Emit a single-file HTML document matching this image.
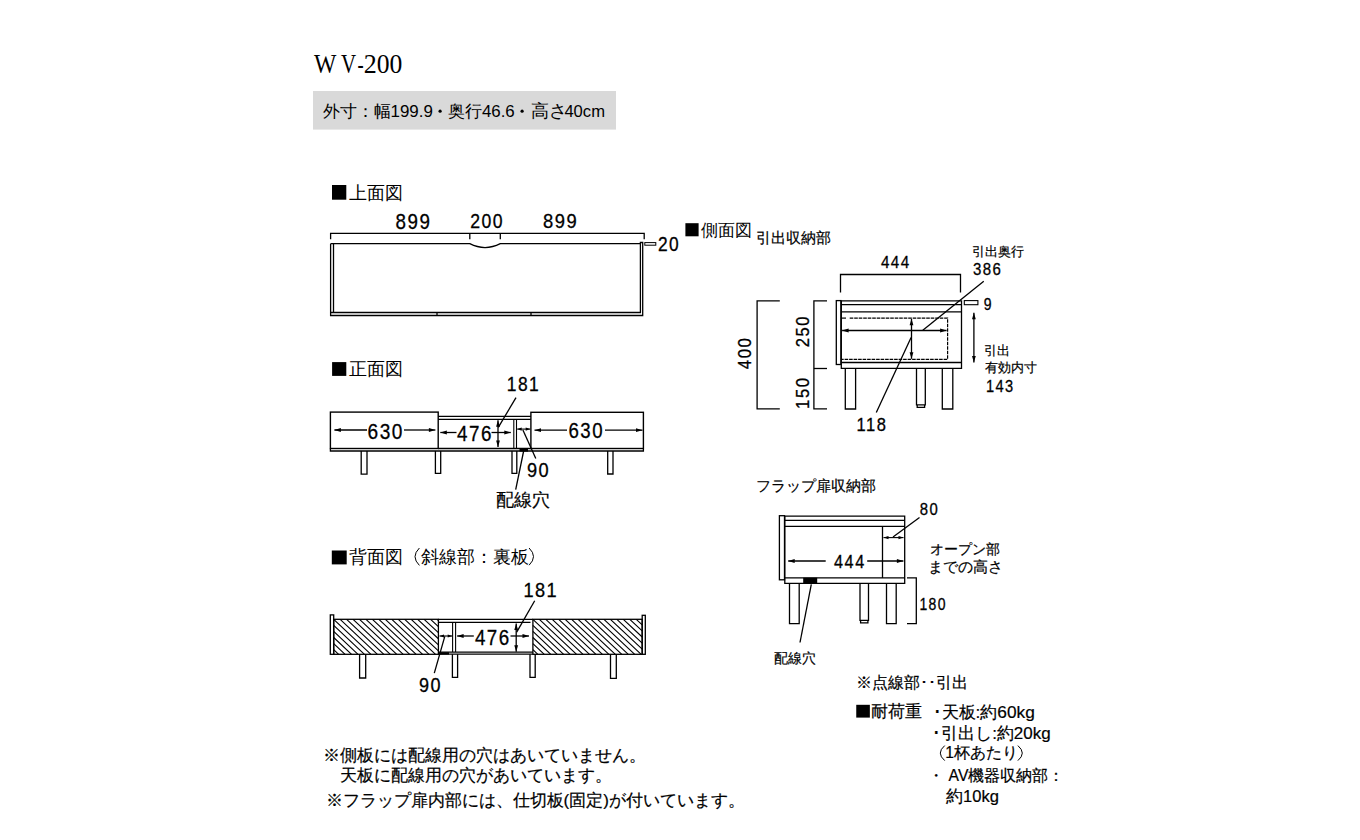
<!DOCTYPE html>
<html lang="ja"><head><meta charset="utf-8"><style>
html,body{margin:0;padding:0;background:#fff;width:1360px;height:840px;overflow:hidden}
svg{position:absolute;left:0;top:0}
</style></head><body>
<svg width="1360" height="840" viewBox="0 0 1360 840">
<rect x="313" y="91" width="303" height="38.6" fill="#d9d9d9"/>
<g stroke="#000" fill="none" stroke-linecap="butt">
<path d="M330.6,239.3 V233.3 H644.2 V239.3" stroke-width="1.3" fill="none"/>
<line x1="469.8" y1="233.3" x2="469.8" y2="239.3" stroke-width="1.3"/>
<line x1="500.3" y1="233.3" x2="500.3" y2="239.3" stroke-width="1.3"/>
<path d="M330.6,243.7 H469.8 Q485,251.5 500.3,243.7 H640.4" stroke-width="1.3" fill="none"/>
<path d="M333.5,243.7 V312.5" stroke-width="1.3" fill="none"/>
<path d="M330.6,243.7 V315.5 H642.7 V242.5 H640.4 V312.5 H330.6" stroke-width="1.3" fill="none"/>
<line x1="437" y1="312.5" x2="437" y2="315.5" stroke-width="1.3"/>
<line x1="531" y1="312.5" x2="531" y2="315.5" stroke-width="1.3"/>
<rect x="644.8" y="242.6" width="11.0" height="2.6" stroke-width="1.0" fill="none"/>
<rect x="330.4" y="412.1" width="107.8" height="36.4" stroke-width="1.4" fill="none"/>
<rect x="530.9" y="412.3" width="112.5" height="36.2" stroke-width="1.4" fill="none"/>
<line x1="438.2" y1="416.3" x2="530.9" y2="416.3" stroke-width="1.3"/>
<line x1="438.2" y1="419.3" x2="530.9" y2="419.3" stroke-width="1.3"/>
<line x1="513.8" y1="419.3" x2="513.8" y2="448.5" stroke-width="1.1"/>
<line x1="516.5" y1="419.3" x2="516.5" y2="448.5" stroke-width="1.1"/>
<path d="M330.4,448.5 V451 H643.4 V448.5" stroke-width="1.3" fill="none"/>
<line x1="438.2" y1="448.5" x2="530.9" y2="448.5" stroke-width="1.3"/>
<rect x="519.5" y="448" width="8.5" height="3.6" fill="#000" stroke="none"/>
<path d="M361.2,451 V474.2 H367 V451" stroke-width="1.3" fill="none"/>
<path d="M435.4,451 V473.3 H440.7 V451" stroke-width="1.3" fill="none"/>
<path d="M512,451 V473.3 H516.8 V451" stroke-width="1.3" fill="none"/>
<path d="M607.7,451 V474 H613 V451" stroke-width="1.3" fill="none"/>
<line x1="367" y1="430" x2="334.4" y2="430" stroke-width="1.3"/>
<path d="M334.40,430.00 L340.90,428.10 L340.90,431.90Z" fill="#000" stroke="none"/>
<line x1="404" y1="430" x2="435.4" y2="430" stroke-width="1.3"/>
<path d="M435.40,430.00 L428.90,431.90 L428.90,428.10Z" fill="#000" stroke="none"/>
<line x1="456.5" y1="432.5" x2="440.3" y2="432.5" stroke-width="1.3"/>
<path d="M440.30,432.50 L446.80,430.60 L446.80,434.40Z" fill="#000" stroke="none"/>
<line x1="491.5" y1="432.5" x2="510.8" y2="432.5" stroke-width="1.3"/>
<path d="M510.80,432.50 L504.30,434.40 L504.30,430.60Z" fill="#000" stroke="none"/>
<line x1="498" y1="420.2" x2="498" y2="447" stroke-width="1.3"/>
<path d="M498.00,447.00 L496.10,440.50 L499.90,440.50Z" fill="#000" stroke="none"/>
<path d="M498.00,420.20 L499.90,426.70 L496.10,426.70Z" fill="#000" stroke="none"/>
<line x1="517.2" y1="429.1" x2="530.2" y2="429.1" stroke-width="1.1"/>
<path d="M530.20,429.10 L525.70,430.70 L525.70,427.50Z" fill="#000" stroke="none"/>
<path d="M517.20,429.10 L521.70,427.50 L521.70,430.70Z" fill="#000" stroke="none"/>
<line x1="567" y1="430.2" x2="534.5" y2="430.2" stroke-width="1.3"/>
<path d="M534.50,430.20 L541.00,428.30 L541.00,432.10Z" fill="#000" stroke="none"/>
<line x1="605" y1="430.2" x2="642.5" y2="430.2" stroke-width="1.3"/>
<path d="M642.50,430.20 L636.00,432.10 L636.00,428.30Z" fill="#000" stroke="none"/>
<line x1="516" y1="397.6" x2="498.3" y2="427.3" stroke-width="1.3"/>
<line x1="522.9" y1="430" x2="535.8" y2="458.6" stroke-width="1.3"/>
<line x1="523.75" y1="450.5" x2="515.7" y2="489.6" stroke-width="1.3"/>
<path d="M779.8,300.8 H757.1 V408.9 H779.8" stroke-width="1.3" fill="none"/>
<path d="M827,300.8 H813.9 V408.9 H827" stroke-width="1.3" fill="none"/>
<line x1="813.9" y1="368.5" x2="827" y2="368.5" stroke-width="1.3"/>
<path d="M840.5,292.5 V274.5 H960.5 V292.5" stroke-width="1.3" fill="none"/>
<rect x="836.3" y="300.6" width="4.6" height="63.9" stroke-width="1.3" fill="none"/>
<path d="M841.3,368.3 V300.9 H961.5 V368.3 Z" stroke-width="1.3" fill="none"/>
<line x1="841.3" y1="304.7" x2="961.5" y2="304.7" stroke-width="1.3"/>
<line x1="841.3" y1="311.8" x2="961.5" y2="311.8" stroke-width="1.3"/>
<line x1="841.3" y1="362.5" x2="961.5" y2="362.5" stroke-width="1.3"/>
<line x1="842" y1="318.1" x2="846" y2="318.1" stroke-width="1.2"/>
<path d="M849.7,318.1 H947.6 V359.3 H842" fill="none" stroke-width="1.2" stroke-dasharray="3.6,0.9"/>
<line x1="842.1" y1="330.5" x2="946.6" y2="330.5" stroke-width="1.3"/>
<path d="M946.60,330.50 L940.10,332.40 L940.10,328.60Z" fill="#000" stroke="none"/>
<path d="M842.10,330.50 L848.60,328.60 L848.60,332.40Z" fill="#000" stroke="none"/>
<line x1="911.5" y1="318.8" x2="911.5" y2="358.8" stroke-width="1.3"/>
<path d="M911.50,358.80 L909.60,352.30 L913.40,352.30Z" fill="#000" stroke="none"/>
<path d="M911.50,318.80 L913.40,325.30 L909.60,325.30Z" fill="#000" stroke="none"/>
<line x1="983.75" y1="281.25" x2="922.8" y2="330.3" stroke-width="1.3"/>
<line x1="911.1" y1="337.6" x2="876.3" y2="412.6" stroke-width="1.3"/>
<rect x="964.3" y="300.6" width="13.6" height="4.1" stroke-width="1.1" fill="none"/>
<line x1="973.9" y1="312.8" x2="973.9" y2="362.4" stroke-width="1.3"/>
<path d="M973.90,362.40 L972.00,355.90 L975.80,355.90Z" fill="#000" stroke="none"/>
<path d="M973.90,312.80 L975.80,319.30 L972.00,319.30Z" fill="#000" stroke="none"/>
<path d="M845.3,368.3 V409 H855.6 V368.3" stroke-width="1.3" fill="none"/>
<path d="M916.5,368.3 V404.9 H925.3 V368.3" stroke-width="1.3" fill="none"/>
<path d="M917.2,404.9 V407.3 H924.6 V404.9" stroke-width="1.3" fill="none"/>
<path d="M942.3,368.3 V409 H952.8 V368.3" stroke-width="1.3" fill="none"/>
<rect x="779.4" y="515.7" width="5.1" height="64.1" stroke-width="1.3" fill="none"/>
<path d="M784.8,583.3 V516.1 H904.7 V583.3 Z" stroke-width="1.3" fill="none"/>
<line x1="784.8" y1="520.3" x2="904.7" y2="520.3" stroke-width="1.3"/>
<line x1="784.8" y1="526.4" x2="904.7" y2="526.4" stroke-width="1.3"/>
<line x1="784.8" y1="577.9" x2="904.7" y2="577.9" stroke-width="1.3"/>
<line x1="882.5" y1="526.4" x2="882.5" y2="577.9" stroke-width="1.3"/>
<rect x="803.2" y="577.7" width="14.0" height="5.8" fill="#000" stroke="none"/>
<line x1="825.7" y1="561" x2="788.2" y2="561" stroke-width="1.3"/>
<path d="M788.20,561.00 L794.70,559.10 L794.70,562.90Z" fill="#000" stroke="none"/>
<line x1="867.2" y1="561" x2="903.4" y2="561" stroke-width="1.3"/>
<path d="M903.40,561.00 L896.90,562.90 L896.90,559.10Z" fill="#000" stroke="none"/>
<line x1="883.5" y1="537.6" x2="903.5" y2="537.6" stroke-width="1.1"/>
<path d="M903.50,537.60 L898.50,539.20 L898.50,536.00Z" fill="#000" stroke="none"/>
<path d="M883.50,537.60 L888.50,536.00 L888.50,539.20Z" fill="#000" stroke="none"/>
<line x1="893" y1="537.1" x2="919.5" y2="517.5" stroke-width="1.3"/>
<line x1="811.3" y1="584.3" x2="800" y2="642.5" stroke-width="1.3"/>
<path d="M789.5,583.3 V623.7 H799.2 V583.3" stroke-width="1.3" fill="none"/>
<path d="M860,583.3 V620.4 H868.5 V583.3" stroke-width="1.3" fill="none"/>
<path d="M860.6,620.4 V622.8 H867.9 V620.4" stroke-width="1.3" fill="none"/>
<path d="M886.5,583.3 V623.6 H896.2 V583.3" stroke-width="1.3" fill="none"/>
<path d="M907,577.8 H916.3 V623.6 H907" stroke-width="1.3" fill="none"/>
<rect x="330.3" y="614.9" width="3.4" height="39.4" stroke-width="1.3" fill="none"/>
<path d="M333.70,649.66L338.64,654.30M333.70,643.59L345.10,654.30M333.70,637.51L351.56,654.30M333.70,631.44L358.02,654.30M333.70,625.37L364.48,654.30M333.70,619.30L370.94,654.30M340.16,619.30L377.40,654.30M346.62,619.30L383.86,654.30M353.08,619.30L390.32,654.30M359.54,619.30L396.78,654.30M366.00,619.30L403.24,654.30M372.46,619.30L409.70,654.30M378.92,619.30L416.16,654.30M385.38,619.30L422.62,654.30M391.84,619.30L429.08,654.30M398.30,619.30L435.54,654.30M404.76,619.30L438.40,650.92M411.22,619.30L438.40,644.85M417.68,619.30L438.40,638.77M424.14,619.30L438.40,632.70M430.60,619.30L438.40,626.63M437.06,619.30L438.40,620.56" stroke-width="1.15" fill="none"/>
<rect x="333.7" y="619.3" width="104.7" height="35.0" stroke-width="1.3" fill="none"/>
<path d="M532.90,649.66L537.84,654.30M532.90,643.59L544.30,654.30M532.90,637.51L550.76,654.30M532.90,631.44L557.22,654.30M532.90,625.37L563.68,654.30M532.90,619.30L570.14,654.30M539.36,619.30L576.60,654.30M545.82,619.30L583.06,654.30M552.28,619.30L589.52,654.30M558.74,619.30L595.98,654.30M565.20,619.30L602.44,654.30M571.66,619.30L608.90,654.30M578.12,619.30L615.36,654.30M584.58,619.30L621.82,654.30M591.04,619.30L628.28,654.30M597.50,619.30L634.74,654.30M603.96,619.30L641.20,654.30M610.42,619.30L642.20,649.17M616.88,619.30L642.20,643.10M623.34,619.30L642.20,637.03M629.80,619.30L642.20,630.95M636.26,619.30L642.20,624.88" stroke-width="1.15" fill="none"/>
<rect x="532.9" y="619.3" width="109.3" height="35.0" stroke-width="1.3" fill="none"/>
<rect x="642.2" y="615.3" width="3.1" height="39.0" stroke-width="1.3" fill="none"/>
<line x1="438.4" y1="619.3" x2="532.9" y2="619.3" stroke-width="1.3"/>
<line x1="438.4" y1="654.1" x2="532.9" y2="654.1" stroke-width="1.3"/>
<line x1="438.4" y1="622.3" x2="530.5" y2="622.3" stroke-width="1.3"/>
<line x1="438.4" y1="652.1" x2="532.9" y2="652.1" stroke-width="1.1"/>
<line x1="452.6" y1="622.3" x2="452.6" y2="652.1" stroke-width="1.1"/>
<line x1="455.6" y1="622.3" x2="455.6" y2="652.1" stroke-width="1.1"/>
<rect x="439" y="652.2" width="10" height="2.4" fill="#000" stroke="none"/>
<line x1="439.5" y1="636" x2="452.2" y2="636" stroke-width="1.1"/>
<path d="M452.20,636.00 L447.70,637.60 L447.70,634.40Z" fill="#000" stroke="none"/>
<path d="M439.50,636.00 L444.00,634.40 L444.00,637.60Z" fill="#000" stroke="none"/>
<line x1="473.8" y1="636" x2="457.1" y2="636" stroke-width="1.3"/>
<path d="M457.10,636.00 L463.60,634.10 L463.60,637.90Z" fill="#000" stroke="none"/>
<line x1="510.5" y1="636" x2="529" y2="636" stroke-width="1.3"/>
<path d="M529.00,636.00 L522.50,637.90 L522.50,634.10Z" fill="#000" stroke="none"/>
<line x1="516.2" y1="623.6" x2="516.2" y2="651.7" stroke-width="1.3"/>
<path d="M516.20,651.70 L514.30,645.20 L518.10,645.20Z" fill="#000" stroke="none"/>
<path d="M516.20,623.60 L518.10,630.10 L514.30,630.10Z" fill="#000" stroke="none"/>
<line x1="534.7" y1="600.8" x2="516.7" y2="632.1" stroke-width="1.3"/>
<line x1="444.8" y1="636.4" x2="434.3" y2="673.1" stroke-width="1.3"/>
<path d="M359.6,654.3 V678 H365.7 V654.3" stroke-width="1.3" fill="none"/>
<path d="M452.4,654.3 V677.4 H457.6 V654.3" stroke-width="1.3" fill="none"/>
<path d="M530,654.3 V677.4 H535.2 V654.3" stroke-width="1.3" fill="none"/>
<path d="M610.5,654.3 V678.3 H616.3 V654.3" stroke-width="1.3" fill="none"/>
<rect x="332" y="185" width="14.3" height="14.7" fill="#000" stroke="none"/>
<rect x="332.1" y="362.1" width="14.2" height="13.8" fill="#000" stroke="none"/>
<rect x="685.4" y="223.2" width="13.2" height="13.1" fill="#000" stroke="none"/>
<rect x="331.8" y="550.5" width="14.9" height="13.9" fill="#000" stroke="none"/>
<rect x="856.25" y="704.8" width="13.6" height="12.8" fill="#000" stroke="none"/>
<path d="M419.4,548 Q410.6,556.7 419.4,565.4" stroke-width="1.0" fill="none"/>
<path d="M529.1,548 Q537.9,556.6 529.1,565.2" stroke-width="1.0" fill="none"/>
<path d="M944.7,745.6 Q935.9,753.1 944.7,760.6" stroke-width="1.0" fill="none"/>
<path d="M1017.9,745.6 Q1026.7,753.1 1017.9,760.6" stroke-width="1.0" fill="none"/>
<circle cx="440.1" cy="111.2" r="1.6" fill="#000" stroke="none"/><circle cx="522.1" cy="111.2" r="1.6" fill="#000" stroke="none"/>
</g>
<g fill="#000" font-family='"Liberation Sans", sans-serif'>
<g transform="translate(323.35,117.4)"><text x="0" y="0" font-size="16.82" letter-spacing="0">外寸：幅</text></g>
<g transform="translate(390.5,117.47)"><text x="0" y="0" font-size="16.91" letter-spacing="0">199.9</text></g>
<g transform="translate(447.75,116.75)"><text x="0" y="0" font-size="16.74" letter-spacing="0">奥行</text></g>
<g transform="translate(481.9,117.47)"><text x="0" y="0" font-size="16.87" letter-spacing="0">46.6</text></g>
<g transform="translate(530.55,117.45)"><text x="0" y="0" font-size="17.62" letter-spacing="0">高さ</text></g>
<g transform="translate(564.4,117.47)"><text x="0" y="0" font-size="16.59" letter-spacing="0">40cm</text></g>
<g transform="translate(349.0,198.82)"><text x="0" y="0" font-size="17.79" letter-spacing="0">上面図</text></g>
<g transform="translate(395.5,228.9) scale(0.88,1)"><text x="0" y="0" font-size="21.37" letter-spacing="1.71" stroke="#000" stroke-width="0.3">899</text></g>
<g transform="translate(470.3,228.4) scale(0.88,1)"><text x="0" y="0" font-size="20.02" letter-spacing="1.6" stroke="#000" stroke-width="0.3">200</text></g>
<g transform="translate(543.12,228.4) scale(0.88,1)"><text x="0" y="0" font-size="20.91" letter-spacing="1.67" stroke="#000" stroke-width="0.3">899</text></g>
<g transform="translate(657.95,250.55) scale(0.88,1)"><text x="0" y="0" font-size="19.72" letter-spacing="1.58" stroke="#000" stroke-width="0.3">20</text></g>
<g transform="translate(701.15,236.0)"><text x="0" y="0" font-size="17.17" letter-spacing="0">側面図</text></g>
<g transform="translate(756.2,243.2)"><text x="0" y="0" font-size="14.7" letter-spacing="0" stroke="#000" stroke-width="0.2">引出収納部</text></g>
<g transform="translate(881.0,267.75) scale(0.88,1)"><text x="0" y="0" font-size="17.23" letter-spacing="1.62" stroke="#000" stroke-width="0.3">444</text></g>
<g transform="translate(971.62,255.75)"><text x="0" y="0" font-size="13.06" letter-spacing="0" stroke="#000" stroke-width="0.2">引出奥行</text></g>
<g transform="translate(973.0,275.38) scale(0.88,1)"><text x="0" y="0" font-size="17.04" letter-spacing="1.6" stroke="#000" stroke-width="0.3">386</text></g>
<g transform="translate(983.75,310.38) scale(0.88,1)"><text x="0" y="0" font-size="15.94" letter-spacing="1.5" stroke="#000" stroke-width="0.3">9</text></g>
<g transform="translate(751.2,369.2) rotate(-90) scale(0.88,1)"><text x="0" y="0" font-size="19.03" letter-spacing="1.79" stroke="#000" stroke-width="0.3">400</text></g>
<g transform="translate(809.25,347.2) rotate(-90) scale(0.88,1)"><text x="0" y="0" font-size="18.83" letter-spacing="1.77" stroke="#000" stroke-width="0.3">250</text></g>
<g transform="translate(809.25,408.95) rotate(-90) scale(0.88,1)"><text x="0" y="0" font-size="18.95" letter-spacing="1.78" stroke="#000" stroke-width="0.3">150</text></g>
<g transform="translate(984.38,354.75)"><text x="0" y="0" font-size="13.42" letter-spacing="0" stroke="#000" stroke-width="0.2">引出</text></g>
<g transform="translate(984.62,371.75)"><text x="0" y="0" font-size="12.81" letter-spacing="0" stroke="#000" stroke-width="0.2">有効内寸</text></g>
<g transform="translate(986.0,391.62) scale(0.88,1)"><text x="0" y="0" font-size="16.61" letter-spacing="1.56" stroke="#000" stroke-width="0.3">143</text></g>
<g transform="translate(856.6,431.0) scale(0.88,1)"><text x="0" y="0" font-size="18.74" letter-spacing="1.76" stroke="#000" stroke-width="0.3">118</text></g>
<g transform="translate(349.25,375.25)"><text x="0" y="0" font-size="17.83" letter-spacing="0">正面図</text></g>
<g transform="translate(506.85,391.0) scale(0.88,1)"><text x="0" y="0" font-size="19.77" letter-spacing="1.58" stroke="#000" stroke-width="0.3">181</text></g>
<g transform="translate(367.5,439.0) scale(0.88,1)"><text x="0" y="0" font-size="21.68" letter-spacing="1.73" stroke="#000" stroke-width="0.3">630</text></g>
<g transform="translate(457.0,441.0) scale(0.88,1)"><text x="0" y="0" font-size="21.34" letter-spacing="1.71" stroke="#000" stroke-width="0.3">476</text></g>
<g transform="translate(568.5,438.25) scale(0.88,1)"><text x="0" y="0" font-size="21.17" letter-spacing="1.69" stroke="#000" stroke-width="0.3">630</text></g>
<g transform="translate(526.88,476.9) scale(0.88,1)"><text x="0" y="0" font-size="20.71" letter-spacing="1.66" stroke="#000" stroke-width="0.3">90</text></g>
<g transform="translate(495.88,506.0)"><text x="0" y="0" font-size="17.95" letter-spacing="0" stroke="#000" stroke-width="0.2">配線穴</text></g>
<g transform="translate(756.25,491.12)"><text x="0" y="0" font-size="14.64" letter-spacing="0" stroke="#000" stroke-width="0.2">フラップ扉収納部</text></g>
<g transform="translate(919.75,514.8) scale(0.88,1)"><text x="0" y="0" font-size="16.94" letter-spacing="1.59" stroke="#000" stroke-width="0.3">80</text></g>
<g transform="translate(834.05,567.5) scale(0.88,1)"><text x="0" y="0" font-size="18.44" letter-spacing="1.74" stroke="#000" stroke-width="0.3">444</text></g>
<g transform="translate(930.35,554.38)"><text x="0" y="0" font-size="14.27" letter-spacing="0" stroke="#000" stroke-width="0.2">オープン部</text></g>
<g transform="translate(927.5,572.38)"><text x="0" y="0" font-size="15.08" letter-spacing="0" stroke="#000" stroke-width="0.2">までの高さ</text></g>
<g transform="translate(919.5,609.7) scale(0.88,1)"><text x="0" y="0" font-size="15.89" letter-spacing="1.5" stroke="#000" stroke-width="0.3">180</text></g>
<g transform="translate(774.12,662.5)"><text x="0" y="0" font-size="14.26" letter-spacing="0" stroke="#000" stroke-width="0.2">配線穴</text></g>
<g transform="translate(348.6,563.2)"><text x="0" y="0" font-size="17.9" letter-spacing="0">背面図</text></g>
<g transform="translate(420.65,563.3)"><text x="0" y="0" font-size="17.93" letter-spacing="0">斜線部：裏板</text></g>
<g transform="translate(523.4,597.0) scale(0.88,1)"><text x="0" y="0" font-size="20.64" letter-spacing="1.65" stroke="#000" stroke-width="0.3">181</text></g>
<g transform="translate(474.9,645.1) scale(0.88,1)"><text x="0" y="0" font-size="21.26" letter-spacing="1.7" stroke="#000" stroke-width="0.3">476</text></g>
<g transform="translate(419.0,691.7) scale(0.88,1)"><text x="0" y="0" font-size="20.52" letter-spacing="1.64" stroke="#000" stroke-width="0.3">90</text></g>
<g transform="translate(856.35,688.3)"><text x="0" y="0" font-size="16.28" letter-spacing="0" stroke="#000" stroke-width="0.2">※点線部･･引出</text></g>
<g transform="translate(870.5,717.23)"><text x="0" y="0" font-size="16.66" letter-spacing="0" stroke="#000" stroke-width="0.2">耐荷重</text></g>
<g transform="translate(932.55,717.75)"><text x="0" y="0" font-size="17.28" letter-spacing="0" stroke="#000" stroke-width="0.2">･天板:約60kg</text></g>
<g transform="translate(932.15,739.25)"><text x="0" y="0" font-size="16.98" letter-spacing="0" stroke="#000" stroke-width="0.2">･引出し:約20kg</text></g>
<g transform="translate(945.35,757.9)"><text x="0" y="0" font-size="15.68" letter-spacing="0" stroke="#000" stroke-width="0.2">1杯あたり</text></g>
<g transform="translate(928.25,780.8)"><text x="0" y="0" font-size="15.71" letter-spacing="0" stroke="#000" stroke-width="0.2">・ AV機器収納部：</text></g>
<g transform="translate(946.12,801.7)"><text x="0" y="0" font-size="16.52" letter-spacing="0" stroke="#000" stroke-width="0.2">約10kg</text></g>
<g transform="translate(322.75,760.5)"><text x="0" y="0" font-size="16.97" letter-spacing="0" stroke="#000" stroke-width="0.2">※側板には配線用の穴はあいていません。</text></g>
<g transform="translate(339.65,780.8)"><text x="0" y="0" font-size="17.04" letter-spacing="0" stroke="#000" stroke-width="0.2">天板に配線用の穴があいています。</text></g>
<g transform="translate(325.5,805.73)"><text x="0" y="0" font-size="17.05" letter-spacing="0" stroke="#000" stroke-width="0.2">※フラップ扉内部には、仕切板(固定)が付いています。</text></g>
</g>
<g fill="#000">
<text transform="translate(314.00,72.9) scale(0.877,1)" font-size="27" font-family='"Liberation Serif", serif'>W</text>
<text transform="translate(340.90,72.9) scale(0.774,1)" font-size="27" font-family='"Liberation Serif", serif'>V</text>
<text transform="translate(357.51,72.9) scale(0.686,1)" font-size="27" font-family='"Liberation Serif", serif'>-</text>
<text transform="translate(363.84,72.9) scale(0.964,1)" font-size="27" font-family='"Liberation Serif", serif'>2</text>
<text transform="translate(376.65,72.9) scale(0.950,1)" font-size="27" font-family='"Liberation Serif", serif'>0</text>
<text transform="translate(389.55,72.9) scale(0.950,1)" font-size="27" font-family='"Liberation Serif", serif'>0</text>
</g>
</svg>
</body></html>
